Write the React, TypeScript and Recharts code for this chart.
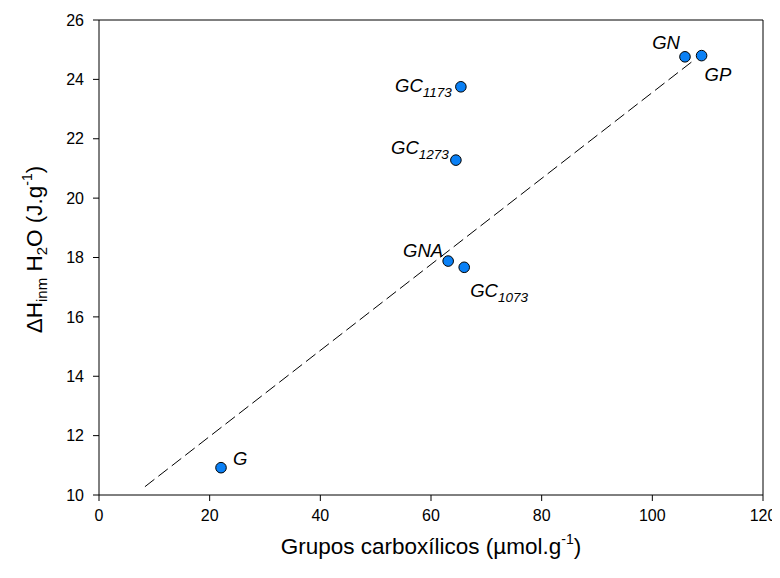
import React from "react";
import { ScatterChart, Scatter, XAxis, YAxis, ReferenceLine } from "recharts";

// ---- data ----
const sampleNames = ["G", "GNA", "GC", "GC", "GC", "GN", "GP"];
const sampleSubs = ["", "", "1073", "1173", "1273", "", ""];
const carboxylGroups = [22.05, 63.1, 66.0, 65.4, 64.5, 105.9, 108.9];
const immersionEnthalpy = [10.92, 17.88, 17.67, 23.75, 21.28, 24.76, 24.8];

const fitX = [8.3, 107.4];
const fitY = [10.28, 24.63];

const xTicks = [0, 20, 40, 60, 80, 100, 120];
const yTicks = [10, 12, 14, 16, 18, 20, 22, 24, 26];

const points = sampleNames.map((n, i) => ({
  name: n,
  sub: sampleSubs[i],
  x: carboxylGroups[i],
  y: immersionEnthalpy[i],
}));

// label layout (by full label id)
const labelLayout: Record<string, { dx: number; dy: number; anchor: "start" | "end" }> = {
  G: { dx: 12, dy: -3, anchor: "start" },
  GNA: { dx: -5, dy: -4, anchor: "end" },
  GC1073: { dx: 6, dy: 30, anchor: "start" },
  GC1173: { dx: -9, dy: 5, anchor: "end" },
  GC1273: { dx: -7, dy: -6, anchor: "end" },
  GN: { dx: -5, dy: -8, anchor: "end" },
  GP: { dx: 3, dy: 25, anchor: "start" },
};

const FONT = "'Liberation Sans', Arial, Helvetica, sans-serif";

const PointShape = (props: any) => {
  const { cx, cy, payload } = props;
  if (cx == null || cy == null) return <g />;
  const id = payload.name + payload.sub;
  const l = labelLayout[id] || { dx: 8, dy: 0, anchor: "start" };
  return (
    <g>
      <circle cx={cx} cy={cy} r={5.3} fill="#0a80f5" stroke="#000" strokeWidth={1} />
      <text
        x={cx + l.dx}
        y={cy + l.dy}
        textAnchor={l.anchor}
        fontFamily={FONT}
        fontStyle="italic"
        fontSize={18.5}
        fill="#000"
      >
        <tspan>{payload.name}</tspan>
        {payload.sub ? (
          <tspan fontSize={13.5} dy={5}>
            {payload.sub}
          </tspan>
        ) : null}
      </text>
    </g>
  );
};

const XTitle = (props: any) => {
  const vb = props.viewBox || {};
  const cx = vb.x + vb.width / 2;
  const y = vb.y + 59;
  return (
    <text x={cx} y={y} textAnchor="middle" fontFamily={FONT} fontSize={22.5} fill="#000">
      <tspan>Grupos carboxílicos (µmol.g</tspan>
      <tspan fontSize={14} dy={-10}>-1</tspan>
      <tspan dy={10}>)</tspan>
    </text>
  );
};

const YTitle = (props: any) => {
  const vb = props.viewBox || {};
  const x = 34;
  const cy = vb.y + vb.height / 2 - 8;
  return (
    <text
      x={x}
      y={cy}
      textAnchor="middle"
      transform={`rotate(-90, ${x}, ${cy})`}
      fontFamily={FONT}
      fontSize={22.5}
      fill="#000"
    >
      <tspan>ΔH</tspan>
      <tspan fontSize={15} dy={5}>inm</tspan>
      <tspan dy={-5}> H</tspan>
      <tspan fontSize={15} dy={5}>2</tspan>
      <tspan dy={-5}>O (J.g</tspan>
      <tspan fontSize={14} dy={-10}>-1</tspan>
      <tspan dy={10}>)</tspan>
    </text>
  );
};

export default function App() {
  return (
    <div style={{ width: 780, height: 570 }}>
      <style>{"html,body{overflow:hidden}"}</style>
      <ScatterChart
        width={780}
        height={570}
        margin={{ top: 12, right: 25, left: 0, bottom: 0 }}
      >
        <XAxis
          type="number"
          dataKey="x"
          domain={[0, 120]}
          ticks={xTicks}
          allowDataOverflow
          height={83}
          stroke="#000"
          tickSize={6}
          tickMargin={9}
          tick={{ fill: "#000", fontSize: 16, fontFamily: FONT }}
          label={<XTitle />}
        />
        <YAxis
          type="number"
          dataKey="y"
          domain={[10, 26]}
          ticks={yTicks}
          allowDataOverflow
          width={91}
          stroke="#000"
          tickSize={6}
          tickMargin={9}
          tick={{ fill: "#000", fontSize: 16, fontFamily: FONT }}
          label={<YTitle />}
        />
        <ReferenceLine y={26} stroke="#000" strokeWidth={1} />
        <ReferenceLine x={120} stroke="#000" strokeWidth={1} />
        <ReferenceLine
          segment={[
            { x: fitX[0], y: fitY[0] },
            { x: fitX[1], y: fitY[1] },
          ]}
          stroke="#000"
          strokeWidth={1}
          strokeDasharray="12 5"
          ifOverflow="visible"
        />
        <Scatter data={points} shape={<PointShape />} isAnimationActive={false} />
      </ScatterChart>
    </div>
  );
}
